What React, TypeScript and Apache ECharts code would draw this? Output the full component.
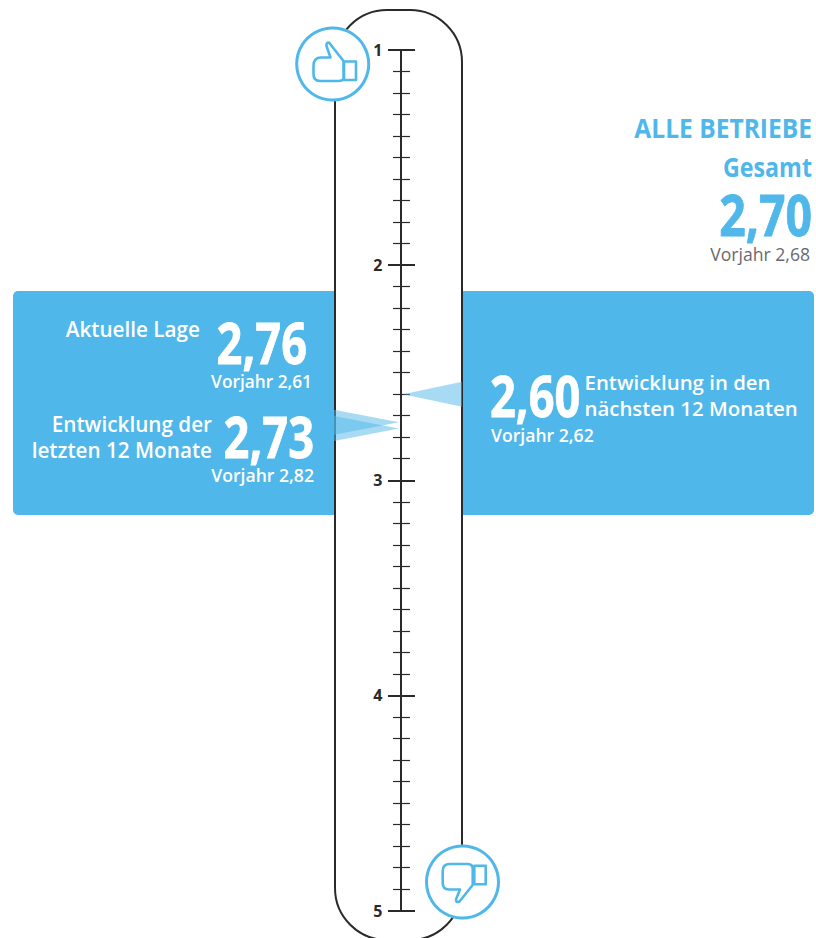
import React, { useEffect, useRef } from "react";
import * as echarts from "echarts";

// Scale and readings
const scaleMin = 1;
const scaleMax = 5;
const leftValues = [2.76, 2.73];
const rightValues = [2.6];
const overallValue = 2.7;
const previousLage = 2.61;
const previousPast = 2.82;
const previousNext = 2.62;
const previousOverall = 2.68;

// Wording
const groupTitle = "ALLE BETRIEBE";
const overallTitle = "Gesamt";
const currentTitle = "Aktuelle Lage";
const pastTitle = ["Entwicklung der", "letzten 12 Monate"];
const nextTitle = ["Entwicklung in den", "nächsten 12 Monaten"];
const previousWord = "Vorjahr";

const BLUE = "#4fb7e9";
const INK = "#2a2a2a";
const FONT = "'Open Sans', sans-serif";

const num = (v: number) => v.toFixed(2).replace(".", ",");

const THUMB_UP =
  "M313.5 66 Q313.5 57.5 321 57.5 L330.5 57.5 L326.5 46 Q326 42.5 329 42.5 L343.5 61 L343.5 79 Q342 81 339 81 L320 81 Q313.5 81 313.5 74 Z M344 61.5 L356 61.5 L356 80 L344 80 Z";
const THUMB_DOWN =
  "M450 864 L468 864 Q472.7 864 472.7 869 L472.7 885 L459.5 901.5 Q456 903 456 899.5 L460 889.5 L449 889.5 Q442.7 889.5 442.7 883 L442.7 871 Q442.7 864 450 864 Z M474.3 865.7 L485.7 865.7 L485.7 884.3 L474.3 884.3 Z";

echarts.graphic.registerShape("thumbUp", echarts.graphic.extendPath(THUMB_UP, {}));
echarts.graphic.registerShape("thumbDown", echarts.graphic.extendPath(THUMB_DOWN, {}));

// Text placed by its baseline; scaleX narrows the large figures around their anchor.
function label(
  text: string,
  x: number,
  baseline: number,
  size: number,
  weight: number,
  fill: string,
  align: "left" | "right",
  scaleX = 1,
  thicken = 0
) {
  return {
    type: "text",
    x,
    y: baseline - size * 0.36,
    scaleX,
    z: 20,
    style: {
      text,
      x: 0,
      y: 0,
      fill,
      align,
      verticalAlign: "middle",
      fontFamily: FONT,
      fontSize: size,
      fontWeight: weight,
      stroke: thicken ? fill : undefined,
      lineWidth: thicken,
    },
  };
}

function wedges(values: number[], side: 1 | -1) {
  return {
    type: "custom",
    coordinateSystem: "cartesian2d",
    xAxisIndex: 0,
    yAxisIndex: 0,
    clip: false,
    silent: true,
    z: 5,
    data: values.map((v) => [0, v]),
    renderItem: (_: unknown, api: any) => {
      const [x, y] = api.coord([api.value(0), api.value(1)]);
      const tip = x + side * 2;
      const base = side > 0 ? x + 61 : x - 67;
      const half = 12.5;
      return {
        type: "polygon",
        shape: { points: [[tip, y], [base, y - half], [base, y + half]] },
        style: { fill: "rgba(79,183,233,0.5)" },
      };
    },
  };
}

export default function App() {
  const ref = useRef<HTMLDivElement>(null);

  useEffect(() => {
    const chart = echarts.init(ref.current!, undefined, { renderer: "svg" });
    const sharedAxis = { type: "value", inverse: true, min: scaleMin, max: scaleMax, interval: 1, position: "left", splitLine: { show: false } };
    const line = { show: true, lineStyle: { color: INK, width: 2 } };

    chart.setOption({
      animation: false,
      backgroundColor: "#ffffff",
      grid: { left: 401, top: 50, width: 61, height: 860.5 },
      xAxis: { type: "value", min: 0, max: 1, show: false },
      yAxis: [
        {
          ...sharedAxis,
          axisLine: line,
          axisTick: { show: true, length: 13, lineStyle: { color: INK, width: 2 } },
          minorTick: { show: true, splitNumber: 10, length: 8, lineStyle: { color: INK, width: 1.2 } },
          axisLabel: { show: true, margin: 18.5, color: INK, fontFamily: FONT, fontSize: 16, fontWeight: 700 },
        },
        {
          ...sharedAxis,
          axisLine: line,
          axisTick: { show: true, inside: true, length: 14, lineStyle: { color: INK, width: 2 } },
          minorTick: { show: true, splitNumber: 10, length: 9, lineStyle: { color: INK, width: 1.2 } },
          axisLabel: { show: false },
        },
      ],
      graphic: [
        { type: "rect", z: -3, shape: { x: 13, y: 291, width: 330, height: 224, r: 5 }, style: { fill: BLUE } },
        { type: "rect", z: -3, shape: { x: 454, y: 291, width: 360, height: 224, r: 5 }, style: { fill: BLUE } },
        {
          type: "rect",
          z: -2,
          shape: { x: 335, y: 10, width: 127, height: 930, r: 52 },
          style: { fill: "#ffffff", stroke: INK, lineWidth: 2 },
        },
        { type: "circle", z: 10, shape: { cx: 332.7, cy: 64, r: 36 }, style: { fill: "#ffffff", stroke: BLUE, lineWidth: 3 } },
        { type: "thumbUp", z: 11, style: { fill: "none", stroke: BLUE, lineWidth: 2.6, lineJoin: "round" } },
        { type: "circle", z: 10, shape: { cx: 462.5, cy: 882, r: 36 }, style: { fill: "#ffffff", stroke: BLUE, lineWidth: 3 } },
        { type: "thumbDown", z: 11, style: { fill: "none", stroke: BLUE, lineWidth: 2.6, lineJoin: "round" } },

        label(groupTitle, 812, 137.7, 27, 700, BLUE, "right", 0.91),
        label(overallTitle, 812, 176, 27, 700, BLUE, "right", 0.86),
        label(num(overallValue), 812, 234, 58, 700, BLUE, "right", 0.8, 0.8),
        label(`${previousWord} ${num(previousOverall)}`, 810, 260, 17.6, 400, "#666a6e", "right"),

        label(currentTitle, 200, 336.5, 20.7, 600, "#ffffff", "right"),
        label(num(leftValues[0]), 307, 362, 58, 700, "#ffffff", "right", 0.78, 0.8),
        label(`${previousWord} ${num(previousLage)}`, 312, 387.7, 17.3, 600, "#ffffff", "right"),

        label(pastTitle[0], 212, 431, 20.7, 600, "#ffffff", "right"),
        label(pastTitle[1], 212, 457.7, 20.7, 600, "#ffffff", "right"),
        label(num(leftValues[1]), 314, 456, 58, 700, "#ffffff", "right", 0.78, 0.8),
        label(`${previousWord} ${num(previousPast)}`, 314, 481.5, 17.6, 600, "#ffffff", "right"),

        label(num(rightValues[0]), 490, 415, 58, 700, "#ffffff", "left", 0.78, 0.8),
        label(nextTitle[0], 584.5, 389, 20.4, 600, "#ffffff", "left"),
        label(nextTitle[1], 584.5, 415.5, 20.4, 600, "#ffffff", "left"),
        label(`${previousWord} ${num(previousNext)}`, 491, 441, 17.6, 600, "#ffffff", "left"),
      ],
      series: [wedges(leftValues, -1), wedges(rightValues, 1)],
    });

    return () => chart.dispose();
  }, []);

  return <div ref={ref} style={{ position: "fixed", left: 0, top: 0, width: 816, height: 938 }} />;
}
